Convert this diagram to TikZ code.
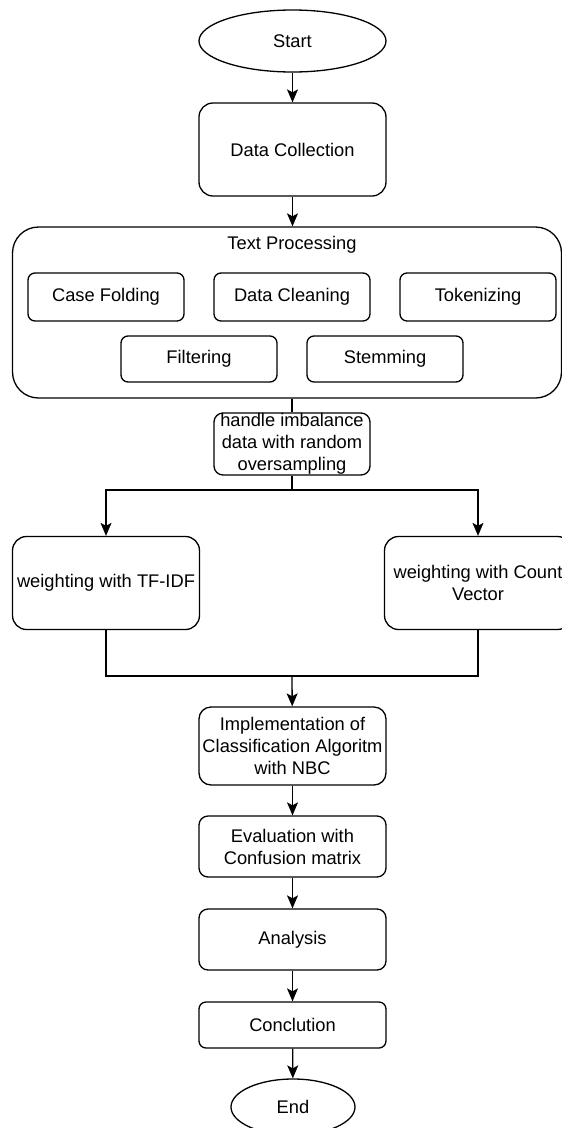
\documentclass[tikz,border=0pt]{standalone}
\usepackage{fontspec}
\setmainfont{Liberation Sans}
\usepackage{tikz}
\usetikzlibrary{shapes.geometric, arrows.meta}
\tikzstyle{arrow} = [line width=1.3pt,-{Stealth[length=13pt,width=11pt,inset=3pt]}]

\begin{document}
\begin{tikzpicture}[x=1pt, y=-1pt,
    every node/.style={font=\fontsize{18.3}{22}\selectfont, inner sep=0pt, align=center}]

    \tikzstyle{terminal}=[ellipse, draw, line width=1.3pt, fill=white]
    \tikzstyle{process}=[rectangle, draw, line width=1.3pt, fill=white]
    \tikzstyle{link}=[line width=1.3pt]

    \useasboundingbox (0,0) rectangle (562,1128);
    \clip (0,0) rectangle (562,1128);
    \fill[white] (0,0) rectangle (562,1128);

    \node[terminal, minimum width=187pt, minimum height=62pt] (start) at (292.5,41) {Start};
    \node[process, rounded corners=14pt, minimum width=187pt, minimum height=93pt] (collect) at (292.5,149.5) {Data Collection};

    % text processing group
    \node[process, rounded corners=26pt, minimum width=549pt, minimum height=171pt] (textproc) at (287,312.5) {};
    \node (tptitle) at (292,245) {Text Processing};
    \node[process, rounded corners=7pt, minimum width=156pt, minimum height=48pt] (casefold) at (106,297) {Case Folding};
    \node[process, rounded corners=7pt, minimum width=156pt, minimum height=48pt] (cleaning) at (292,297) {Data Cleaning};
    \node[process, rounded corners=7pt, minimum width=156pt, minimum height=48pt] (tokenize) at (478,297) {Tokenizing};
    \node[process, rounded corners=7pt, minimum width=156pt, minimum height=46pt] (filtering) at (199,359) {Filtering};
    \node[process, rounded corners=7pt, minimum width=156pt, minimum height=46pt] (stemming) at (385,359) {Stemming};

    \node[process, rounded corners=9pt, minimum width=156pt, minimum height=62pt] (oversample) at (292,444) {handle imbalance\\data with random\\oversampling};

    \node[process, rounded corners=14pt, minimum width=187pt, minimum height=93pt] (tfidf) at (106,583) {weighting with TF-IDF};
    \node[process, rounded corners=14pt, minimum width=187pt, minimum height=93pt] (countvec) at (478,583) {weighting with Count\\Vector};

    \node[process, rounded corners=12pt, minimum width=187pt, minimum height=78pt] (nbc) at (292.5,746) {Implementation of\\Classification Algoritm\\with NBC};
    \node[process, rounded corners=9pt, minimum width=187pt, minimum height=61pt] (evaluation) at (292.5,846.5) {Evaluation with\\Confusion matrix};
    \node[process, rounded corners=9pt, minimum width=187pt, minimum height=61pt] (analysis) at (292.5,939.5) {Analysis};
    \node[process, rounded corners=7pt, minimum width=187pt, minimum height=46pt] (conclusion) at (292.5,1025) {Conclution};
    \node[terminal, minimum width=124pt, minimum height=56pt] (finish) at (293,1107) {End};

    \coordinate (split) at (292,490);
    \coordinate (merge) at (292,676);

    \draw[arrow] (start) -- (collect);
    \draw[arrow] (collect.south) -- (collect.south |- textproc.north);
    \draw[link] (oversample.north |- textproc.south) -- (oversample.north);
    \draw[link] (oversample) -- (split);
    \draw[arrow] (split) -| (tfidf);
    \draw[arrow] (split) -| (countvec);
    \draw[link] (tfidf) |- (merge) -| (countvec);
    \draw[arrow] (merge) -- (nbc);
    \draw[arrow] (nbc) -- (evaluation);
    \draw[arrow] (evaluation) -- (analysis);
    \draw[arrow] (analysis) -- (conclusion);
    \draw[arrow] (conclusion) -- (finish);

\end{tikzpicture}
\end{document}
